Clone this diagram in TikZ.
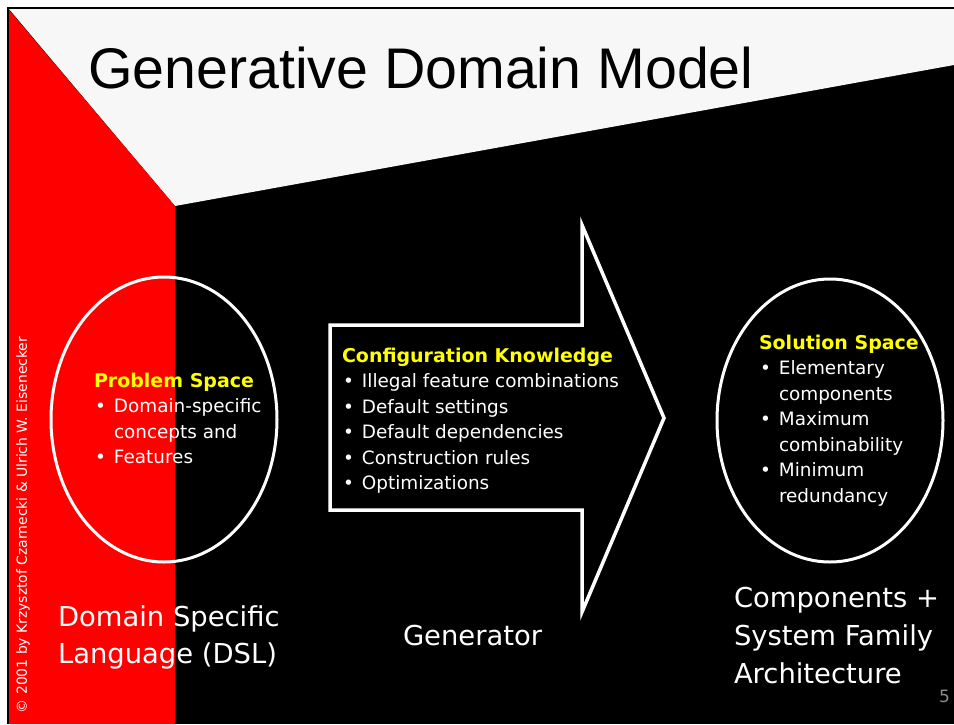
\documentclass[tikz,border=0pt]{standalone}
\usepackage{fontspec}
\setmainfont{DejaVu Sans}
\newfontfamily\titlefont{Liberation Sans}
\usetikzlibrary{shapes.geometric}
\definecolor{slidegray}{HTML}{F7F7F7}
\definecolor{slidered}{HTML}{FF0000}
\definecolor{headyellow}{HTML}{FFFF00}
\definecolor{pagenum}{HTML}{8C8C8C}
\newcommand\blt{\hspace*{1pt}\makebox[19pt][l]{\textbullet}}
\newcommand\ind{\hspace*{20pt}}
\newcommand\hd[1]{{\fontsize{19}{25.5}\selectfont\bfseries\color{headyellow}#1}}
\begin{document}
\begin{tikzpicture}[x=1pt,y=-1pt,
  every node/.style={inner sep=0pt, outer sep=0pt},
  bodytext/.style={anchor=base west, text=white, font=\fontsize{18.4}{25.5}\selectfont},
  biglabel/.style={anchor=base west, text=white, font=\fontsize{27.4}{37.5}\selectfont},
  ring/.style={ellipse, draw=white, line width=3pt, minimum width=226pt},
  arrowshape/.style={draw=white, fill=black, line width=3.5pt, line join=miter}]
\useasboundingbox (0,0) rectangle (954,724);
% page and slide background
\fill[white] (0,0) rectangle (954,724);
\fill[black] (7,7) rectangle (954,724);
\fill[slidegray] (9,9) -- (954,9) -- (954,65) -- (175,206) -- cycle;
\fill[slidered] (9,10) -- (175,206) -- (175,724) -- (9,724) -- cycle;
% title
\node[anchor=base west, text=black, font=\titlefont\fontsize{57.3}{60}\selectfont] (title) at (88,88) {Generative Domain Model};
% copyright
\node[anchor=base west, rotate=90, text=white, font=\fontsize{13.9}{16}\selectfont] (copy) at (27,713) {\textcopyright{} 2001 by Krzysztof Czarnecki \& Ulrich W. Eisenecker};
% ellipses
\node[ring, minimum height=285pt] (problem) at (164,419.5) {};
\node[ring, minimum height=283pt] (solution) at (830,420.5) {};
% generator arrow
\draw[arrowshape] (330,325) -- (582,325) -- (582,225) -- (664,418) -- (582,612) -- (582,510) -- (330,510) -- cycle;
% problem space text
\node[bodytext] (probtext) at (94,387) {\begin{tabular}[t]{@{}l@{}}
\hd{Problem Space}\\
\blt Domain-specific\\
\ind concepts and\\
\blt Features
\end{tabular}};
% configuration knowledge text
\node[bodytext] (conftext) at (342,362) {\begin{tabular}[t]{@{}l@{}}
\hd{Configuration Knowledge}\\
\blt Illegal feature combinations\\
\blt Default settings\\
\blt Default dependencies\\
\blt Construction rules\\
\blt Optimizations
\end{tabular}};
% solution space text
\node[bodytext] (soltext) at (759,349) {\begin{tabular}[t]{@{}l@{}}
\hd{Solution Space}\\
\blt Elementary\\
\ind components\\
\blt Maximum\\
\ind combinability\\
\blt Minimum\\
\ind redundancy
\end{tabular}};
% bottom labels
\node[biglabel] (dsl) at (58,626) {\begin{tabular}[t]{@{}l@{}}Domain Specific\\Language (DSL)\end{tabular}};
\node[biglabel] (gen) at (403,645) {Generator};
\node[biglabel, font=\fontsize{27.4}{38}\selectfont] (comp) at (734,607) {\begin{tabular}[t]{@{}l@{}}Components +\\System Family\\Architecture\end{tabular}};
% page number
\node[anchor=base west, text=pagenum, font=\fontsize{17}{20}\selectfont] (pnum) at (939,702) {5};
\end{tikzpicture}
\end{document}
